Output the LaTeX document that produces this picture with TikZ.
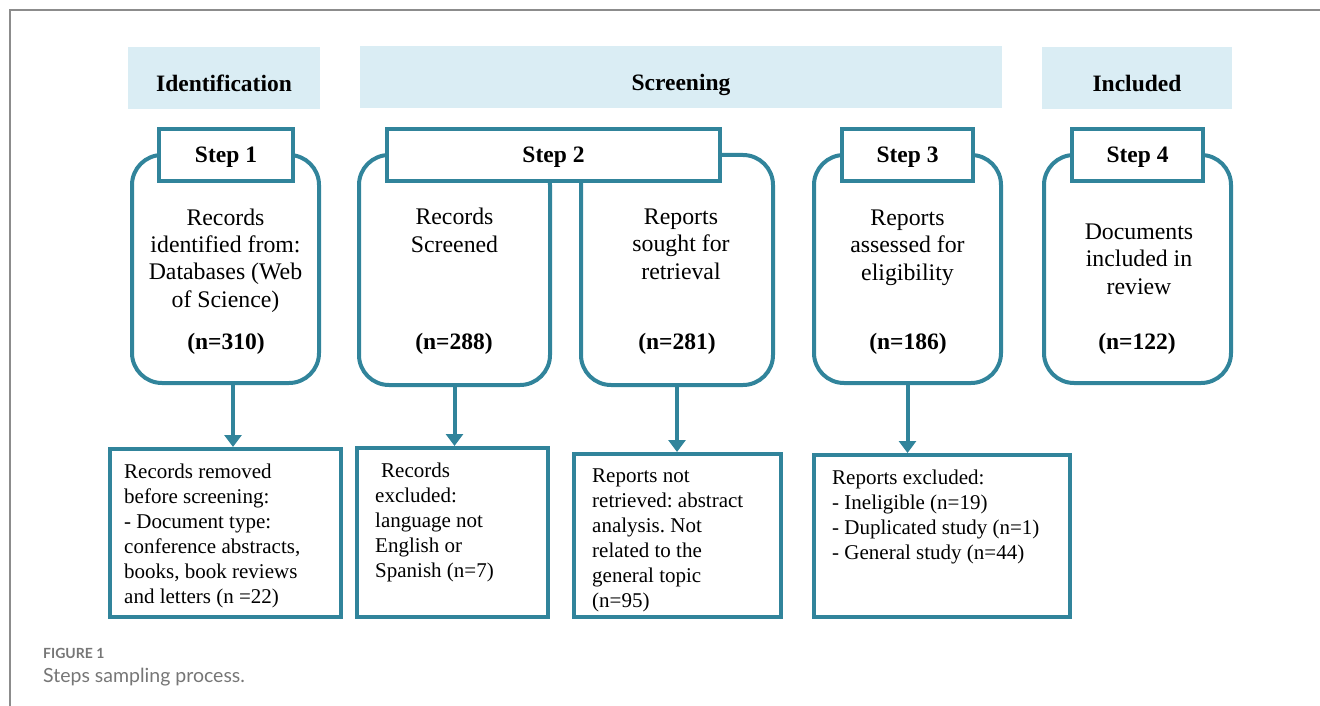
\documentclass[tikz,border=0pt]{standalone}
\usepackage{fontspec}
\setmainfont{Liberation Serif}
\newfontfamily\capfont{Lato}
\usetikzlibrary{arrows.meta}
\frenchspacing

\definecolor{stepteal}{HTML}{31849B}
\definecolor{bandblue}{HTML}{DAEDF4}
\definecolor{framegray}{HTML}{8C8C8C}
\definecolor{capgray}{HTML}{767676}

\newcommand{\headfont}{\bfseries\fontsize{23.5}{28}\selectfont}

\tikzset{
  band/.style={fill=bandblue, inner sep=0pt, minimum height=62pt, font=\headfont, text height=28pt, text depth=0pt},
  stepbox/.style={draw=stepteal, line width=4pt, rounded corners=30pt, inner sep=0pt, minimum height=228pt},
  steplabel/.style={draw=stepteal, line width=4pt, fill=white, inner sep=0pt, minimum height=52pt, font=\headfont, text height=16pt, text depth=0pt},
  lowbox/.style={draw=stepteal, line width=4pt, inner sep=0pt},
  uptxt/.style={align=center, inner sep=0pt, anchor=base, font=\fontsize{23.8}{27.3}\selectfont},
  count/.style={inner sep=0pt, anchor=base, font=\headfont},
  lowtxt/.style={align=left, inner sep=0pt, anchor=base west, font=\fontsize{21}{25}\selectfont},
  arr/.style={draw=stepteal, line width=4pt, -{Triangle[width=17pt,length=12pt]}}
}

\begin{document}
\begin{tikzpicture}[x=1pt,y=-1pt]
\useasboundingbox (0,0) rectangle (1320,706);

\draw[framegray, line width=1.5pt] (10,706) -- (10,10) -- (1320,10);

% phases
\node[band, minimum width=192pt] (ident) at (224,78) {Identification};
\node[band, minimum width=642pt] (screen) at (681,77) {Screening};
\node[band, minimum width=190pt] (incl) at (1137,78) {Included};

% steps
\node[stepbox, minimum width=187pt] (s1) at (225.5,269) {};
\node[stepbox, minimum width=191pt, minimum height=230pt] (s2a) at (454.5,270) {};
\node[stepbox, minimum width=192pt, minimum height=230pt] (s2b) at (677,270) {};
\node[stepbox, minimum width=187pt] (s3) at (907.5,269) {};
\node[stepbox, minimum width=187pt] (s4) at (1137.5,269) {};

\node[steplabel, minimum width=134pt] (l1) at (226,155) {Step 1};
\node[steplabel, minimum width=333pt] (l2) at (553.5,155) {Step 2};
\node[steplabel, minimum width=131pt] (l3) at (907.5,155) {Step 3};
\node[steplabel, minimum width=131pt] (l4) at (1137.5,155) {Step 4};

% base = last line
\node[uptxt] (t1) at (225.5,307) {Records\\identified from:\\Databases (Web\\of Science)};
\node[uptxt] (t2a) at (454.5,252) {Records\\Screened};
\node[uptxt] (t2b) at (681,279) {Reports\\sought for\\retrieval};
\node[uptxt] (t3) at (907.5,280) {Reports\\assessed for\\eligibility};
\node[uptxt] (t4) at (1139,294) {Documents\\included in\\review};

\node[count] (n1) at (226,349) {(n=310)};
\node[count] (n2a) at (454,349) {(n=288)};
\node[count] (n2b) at (677,349) {(n=281)};
\node[count] (n3) at (908,349) {(n=186)};
\node[count] (n4) at (1137,349) {(n=122)};

% exclusions
\node[lowbox, minimum width=231pt, minimum height=168pt] (rem) at (225.5,533) {};
\node[lowbox, minimum width=191pt, minimum height=169pt] (exc) at (452.5,532.5) {};
\node[lowbox, minimum width=207pt, minimum height=163pt] (ret) at (677.5,535.5) {};
\node[lowbox, minimum width=256pt, minimum height=162pt] (elig) at (942,536) {};

\node[lowtxt] (rt) at (124,603) {Records removed\\before screening:\\- Document type:\\conference abstracts,\\books, book reviews\\and letters (n =22)};
\node[lowtxt] (et) at (375,577) {\hspace*{6pt}Records\\excluded:\\language not\\English or\\Spanish (n=7)};
\node[lowtxt] (nt) at (592,607) {Reports not\\retrieved: abstract\\analysis. Not\\related to the\\general topic\\(n=95)};
\node[lowtxt] (gt) at (832,559) {Reports excluded:\\- Ineligible (n=19)\\- Duplicated study (n=1)\\- General study (n=44)};

\draw[arr] ([xshift=7.5pt]s1.south) -- ([xshift=7.5pt]s1.south |- rem.north);
\draw[arr] (s2a.south) -- (s2a.south |- exc.north);
\draw[arr] (s2b.south) -- (s2b.south |- ret.north);
\draw[arr] (s3.south) -- (s3.south |- elig.north);

% caption
\node[anchor=base west, inner sep=0pt, text=capgray, font=\capfont\bfseries\fontsize{14}{16}\selectfont] (fig) at (43,658) {FIGURE 1};
\node[anchor=base west, inner sep=0pt, text=capgray, font=\capfont\fontsize{19.5}{22}\selectfont] (cap) at (43,682) {Steps sampling process.};
\end{tikzpicture}
\end{document}
